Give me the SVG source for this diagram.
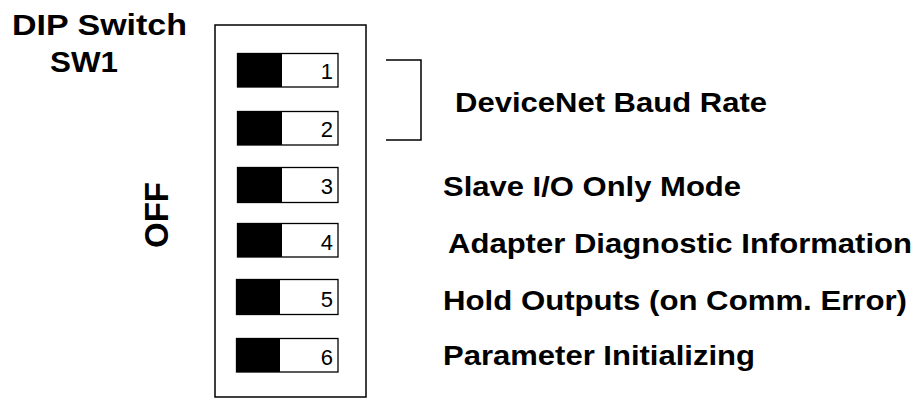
<svg xmlns="http://www.w3.org/2000/svg" width="915" height="399" viewBox="0 0 915 399">
<style>
.t{font-family:"Liberation Sans",Arial,sans-serif;font-weight:bold;fill:#000}
.lbl{font-family:"Liberation Sans",Arial,sans-serif;font-weight:bold;font-size:28px;fill:#000}
.num{font-family:"Liberation Sans",Arial,sans-serif;font-size:22px;fill:#000;text-anchor:end}
.sw{fill:#fff;stroke:#000;stroke-width:1.3}
.blk{fill:#000}
.ln{fill:none;stroke:#000;stroke-width:1.5}
</style>
<rect width="915" height="399" fill="#fff"/>
<g id="title">
<text class="t" x="12" y="35" font-size="30" textLength="175" lengthAdjust="spacingAndGlyphs">DIP Switch</text>
<text class="t" x="50" y="72" font-size="30" textLength="68" lengthAdjust="spacingAndGlyphs">SW1</text>
</g>
<g id="off">
<text class="t" font-size="34" transform="translate(168,248) rotate(-90)" textLength="66" lengthAdjust="spacingAndGlyphs">OFF</text>
</g>
<g id="housing">
<rect class="ln" x="215" y="25" width="151" height="372"/>
</g>
<g id="switch1"><rect class="sw" x="237.5" y="53.5" width="100.5" height="33.5"/><rect class="blk" x="237.5" y="53.5" width="44.5" height="33.5"/><text class="num" x="333" y="79">1</text></g>
<g id="switch2"><rect class="sw" x="237.5" y="111.5" width="100.5" height="33.5"/><rect class="blk" x="237.5" y="111.5" width="44.5" height="33.5"/><text class="num" x="333" y="137">2</text></g>
<g id="switch3"><rect class="sw" x="237.5" y="167.5" width="100.5" height="35"/><rect class="blk" x="237.5" y="167.5" width="44.5" height="35"/><text class="num" x="333" y="194">3</text></g>
<g id="switch4"><rect class="sw" x="237.5" y="223.5" width="100.5" height="33.5"/><rect class="blk" x="237.5" y="223.5" width="44.5" height="33.5"/><text class="num" x="333" y="250">4</text></g>
<g id="switch5"><rect class="sw" x="236.5" y="279.5" width="101.5" height="35"/><rect class="blk" x="236.5" y="279.5" width="43.5" height="35"/><text class="num" x="333" y="307">5</text></g>
<g id="switch6"><rect class="sw" x="236.5" y="338.5" width="101.5" height="33.5"/><rect class="blk" x="236.5" y="338.5" width="43.5" height="33.5"/><text class="num" x="333" y="365">6</text></g>
<g id="connectors">
<path class="ln" d="M386 60 H421 V140 H386"/>
</g>
<g id="labels">
<text class="lbl" x="455" y="112" textLength="312" lengthAdjust="spacingAndGlyphs">DeviceNet Baud Rate</text>
<text class="lbl" x="443" y="196" textLength="298" lengthAdjust="spacingAndGlyphs">Slave I/O Only Mode</text>
<text class="lbl" x="448" y="253" textLength="464" lengthAdjust="spacingAndGlyphs">Adapter Diagnostic Information</text>
<text class="lbl" x="443" y="310" textLength="464" lengthAdjust="spacingAndGlyphs">Hold Outputs (on Comm. Error)</text>
<text class="lbl" x="443" y="365" textLength="312" lengthAdjust="spacingAndGlyphs">Parameter Initializing</text>
</g>
</svg>
